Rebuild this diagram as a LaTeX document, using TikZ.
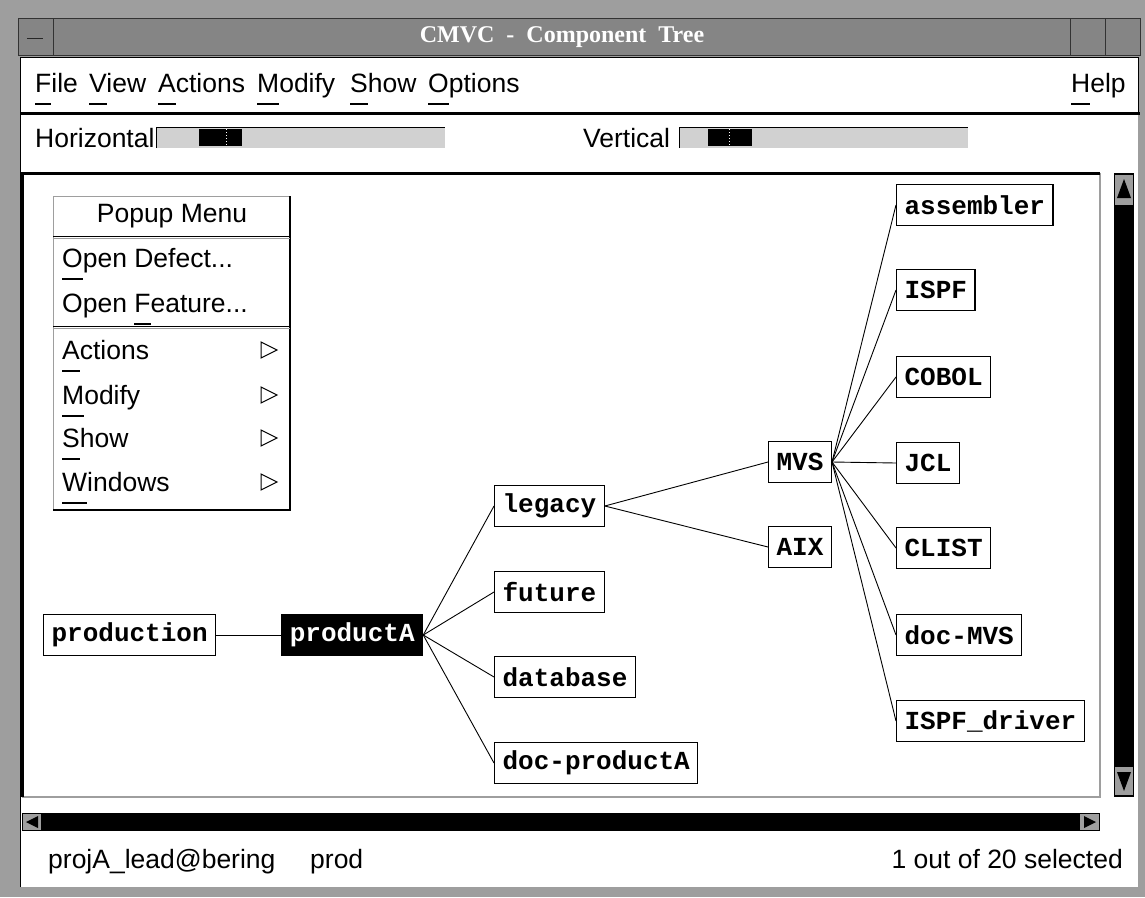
\documentclass[tikz,border=0pt]{standalone}
\usepackage{fontspec}
\setmainfont{Liberation Sans}
\newfontfamily\treefont{Liberation Mono}
\newfontfamily\barfont{Liberation Serif}
\usetikzlibrary{positioning}

\definecolor{dither}{gray}{0.62}
\definecolor{darkdither}{gray}{0.52}
\definecolor{lightdither}{gray}{0.82}

% underlined mnemonic letter
\newcommand{\mnem}[1]{\setbox0\hbox{#1}\rlap{\rule[-12pt]{\wd0}{1.5pt}}#1}

\begin{document}
\begin{tikzpicture}[
        x = 1pt, y = -1pt,
        comp/.style = {
            draw,
            line width = 1.2pt,
            fill = white,
            font = \treefont\bfseries\fontsize{26}{28}\selectfont,
            minimum height = 41pt,
            inner xsep = 8pt,
            inner ysep = 0pt,
            anchor = west
        },
        picked/.style = {comp, fill = black, text = white},
        menu/.style = {
            font = \fontsize{26.5}{30}\selectfont,
            anchor = base west,
            inner sep = 0pt
        },
        link/.style = {line width = 0.9pt}
        ]
\useasboundingbox (0,0) rectangle (1145,897);
%
% window frame and title bar
        \fill[dither] (0,0) rectangle (1145,897);
        \fill[white] (20,57) rectangle (1138,887);
        \fill[darkdither] (18,18) rectangle (1140,55);
        \draw[gray!40!black, line width = 0.8pt] (18,18) rectangle (1140,55);
        \draw[gray!40!black, line width = 0.8pt] (53,18) -- (53,55) (1070,18) -- (1070,55) (1105,18) -- (1105,55);
        \draw[gray!30!black, line width = 1pt] (27,38) -- (43,38);
        \node[font=\barfont\bfseries\fontsize{24}{26}\selectfont, text=white] (title) at (562,37) {CMVC\ \ -\ \ Component\ \ Tree};
%
% menu bar
        \draw[line width = 1pt] (20,887) -- (20,57) -- (1138,57) -- (1138,113);
        \draw[line width = 3pt] (20,113) -- (1139.5,113);
        \node[menu] (mfile) at (35,92.5) {\mnem{F}ile};
        \node[menu] (mview) at (89,92.5) {\mnem{V}iew};
        \node[menu] (mactions) at (158,92.5) {\mnem{A}ctions};
        \node[menu] (mmodify) at (257,92.5) {\mnem{M}odify};
        \node[menu] (mshow) at (350,92.5) {\mnem{S}how};
        \node[menu] (moptions) at (428,92.5) {\mnem{O}ptions};
        \node[menu] (mhelp) at (1071,92.5) {\mnem{H}elp};
%
% zoom scales
        \node[menu] (hlabel) at (35,147.5) {Horizontal};
        \fill[lightdither] (156,127) rectangle (445,148);
        \draw[line width = 1pt] (156,148) -- (156,127) -- (445,127);
        \fill[black] (199,129) rectangle (242,146);
        \draw[white, line width = 1pt, dotted] (226,129) -- (226,146);
%
        \node[menu] (vlabel) at (583,147.5) {Vertical};
        \fill[lightdither] (679,127) rectangle (968,148);
        \draw[line width = 1pt] (679,148) -- (679,127) -- (968,127);
        \fill[black] (708,129) rectangle (752,146);
        \draw[white, line width = 1pt, dotted] (729,129) -- (729,146);
%
% canvas with scroll bars
        \fill[white] (22,173) rectangle (1100,797);
        \draw[dither, line width = 2pt] (22,797) -- (1100,797) -- (1100,173);
        \draw[line width = 3pt] (22,797) -- (22,173) -- (1100,173);
%
        \fill[black] (1114,173) rectangle (1134,797);
        \fill[dither] (1115,175) rectangle (1133,205);
        \fill[black] (1117,198) -- (1124,179) -- (1131,198) -- cycle;
        \fill[dither] (1115,767) rectangle (1133,795);
        \fill[black] (1117,772) -- (1131,772) -- (1124,791) -- cycle;
%
        \fill[black] (22,813) rectangle (1100,831);
        \fill[dither] (23,814) rectangle (41,830);
        \fill[black] (26,822) -- (38,816) -- (38,828) -- cycle;
        \fill[dither] (1080,814) rectangle (1099,830);
        \fill[black] (1096,822) -- (1084,816) -- (1084,828) -- cycle;
%
% status line
        \node[menu] (user) at (48,868) {projA\_lead@bering};
        \node[menu] (family) at (310,868) {prod};
        \node[menu, anchor=base east] (count) at (1123,868) {1 out of 20 selected};
%
% popup menu
        \fill[white] (53,196) rectangle (290,510);
        \draw[dither, line width = 1pt] (53,510) -- (53,196) -- (290,196);
        \draw[line width = 2pt] (53,510) -- (290,510) -- (290,196);
        \draw[line width = 1pt] (53,236) -- (290,236);
        \draw[dither, line width = 1pt] (53,238.5) -- (290,238.5);
        \draw[line width = 1pt] (53,326) -- (290,326);
        \draw[dither, line width = 1pt] (53,328.5) -- (290,328.5);
        \node[menu, anchor=base] (ptitle) at (172,222.5) {Popup Menu};
        \node[menu] (pdefect) at (62,267.5) {\mnem{O}pen Defect...};
        \node[menu] (pfeature) at (62,312.5) {Open \mnem{F}eature...};
        \foreach \y/\txt [count=\i] in {359.5/\mnem{A}ctions, 404.5/\mnem{M}odify, 447.5/\mnem{S}how, 491.5/\mnem{W}indows} {
            \node[menu] (pitem\i) at (62,\y) {\txt};
            \draw[line width = 1pt] (261,\y-17.5) -- ++(16,8) -- ++(-16,8) -- cycle;
        }
%
% component tree
        \node[comp] (production) at (43,635) {production};
        \node[picked, right=65pt of production] (productA) {productA};
%
        \node[comp] (legacy) at (494,506) {legacy};
        \node[comp] (future) at (494,592) {future};
        \node[comp] (database) at (494,677) {database};
        \node[comp] (docA) at (494,763) {doc-productA};
%
        \node[comp] (MVS) at (768,462) {MVS};
        \node[comp] (AIX) at (768,547) {AIX};
%
        \node[comp] (assembler) at (896,205) {assembler};
        \node[comp] (ISPF) at (896,290) {ISPF};
        \node[comp] (COBOL) at (896,377) {COBOL};
        \node[comp] (JCL) at (896,463) {JCL};
        \node[comp] (CLIST) at (896,548) {CLIST};
        \node[comp] (docMVS) at (896,635) {doc-MVS};
        \node[comp] (driver) at (896,721) {ISPF\_driver};
%
        \draw[link] (production) -- (productA);
        \foreach \kid in {legacy, future, database, docA}
            \draw[link] (productA.east) -- (\kid.west);
        \foreach \kid in {MVS, AIX}
            \draw[link] (legacy.east) -- (\kid.west);
        \foreach \kid in {assembler, ISPF, COBOL, JCL, CLIST, docMVS, driver}
            \draw[link] (MVS.east) -- (\kid.west);
\end{tikzpicture}
\end{document}
